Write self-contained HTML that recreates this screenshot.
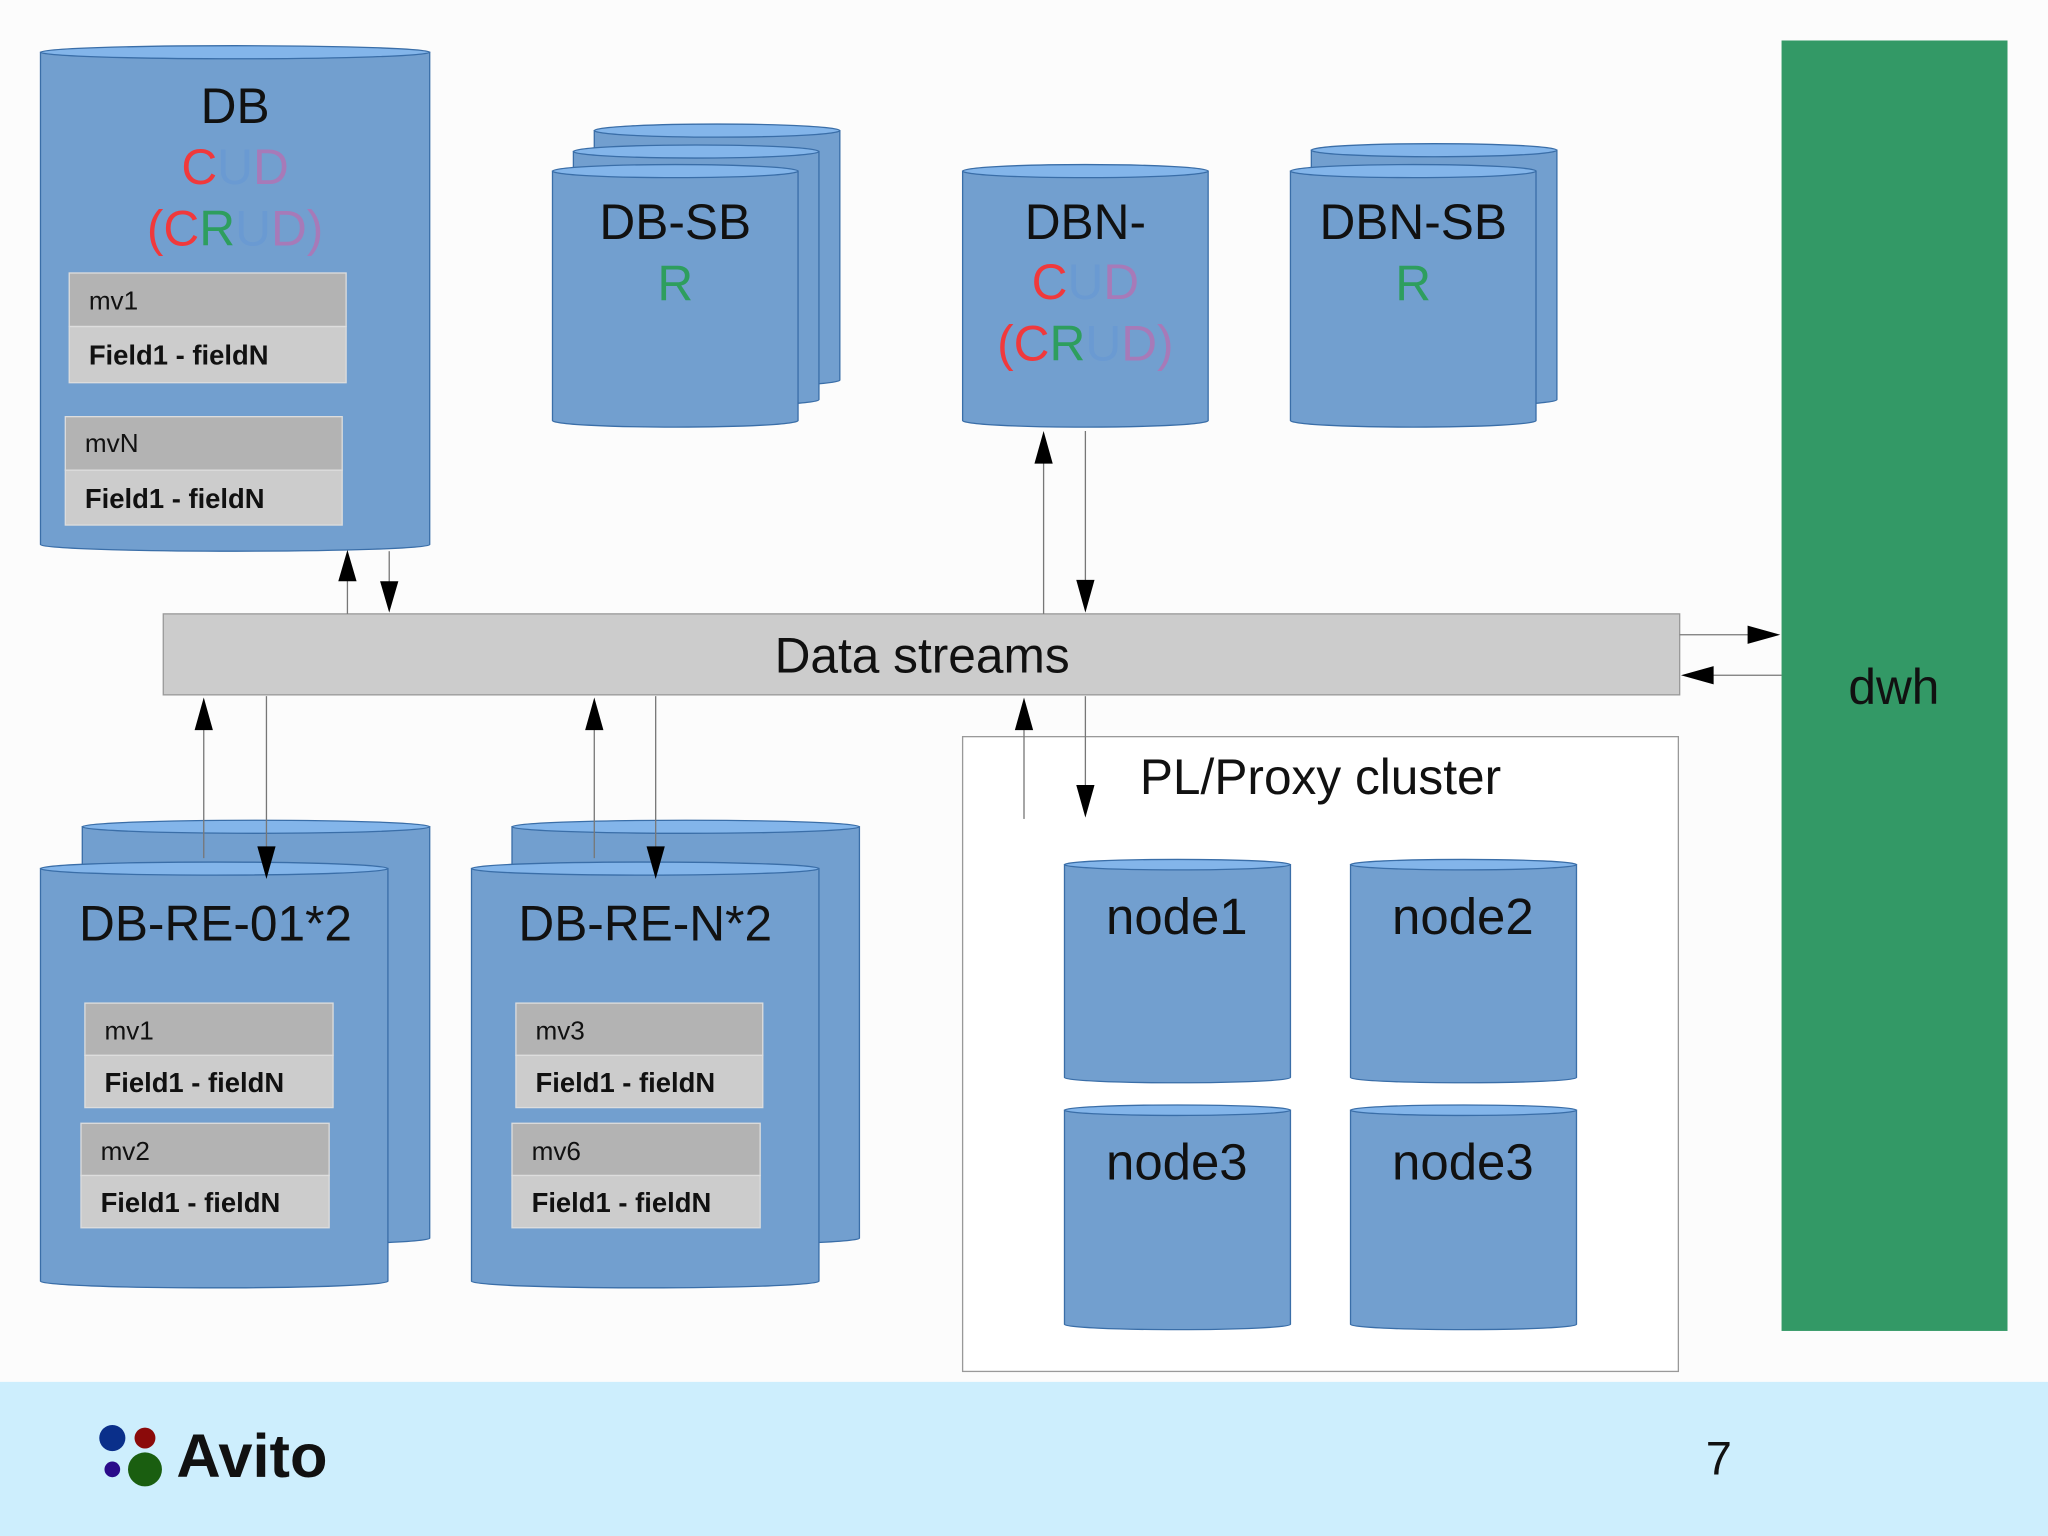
<!DOCTYPE html>
<html><head><meta charset="utf-8"><style>
html,body{margin:0;padding:0;background:#fcfcfc;}
svg{display:block;}
text{font-family:"Liberation Sans",sans-serif;}
</style></head><body>
<svg width="2048" height="1536" viewBox="0 0 1568 1176" xmlns="http://www.w3.org/2000/svg">
<rect width="1568" height="1176" fill="#fcfcfc"/>
<g stroke="#3a6ea8" stroke-width="1" fill="#729fcf">
<path d="M31,40 V417 A149,5 0 0 0 329,417 V40 z"/><ellipse cx="180" cy="40" rx="149" ry="5" fill="#83b5ea"/>
<path d="M455,100 V291 A94,5 0 0 0 643,291 V100 z"/><ellipse cx="549" cy="100" rx="94" ry="5" fill="#83b5ea"/>
<path d="M439,116 V306 A94,5 0 0 0 627,306 V116 z"/><ellipse cx="533" cy="116" rx="94" ry="5" fill="#83b5ea"/>
<path d="M423,131 V322 A94,5 0 0 0 611,322 V131 z"/><ellipse cx="517" cy="131" rx="94" ry="5" fill="#83b5ea"/>
<path d="M737,131 V322 A94,5 0 0 0 925,322 V131 z"/><ellipse cx="831" cy="131" rx="94" ry="5" fill="#83b5ea"/>
<path d="M1004,115 V306 A94,5 0 0 0 1192,306 V115 z"/><ellipse cx="1098" cy="115" rx="94" ry="5" fill="#83b5ea"/>
<path d="M988,131 V322 A94,5 0 0 0 1176,322 V131 z"/><ellipse cx="1082" cy="131" rx="94" ry="5" fill="#83b5ea"/>
<path d="M63,633 V948 A133,5 0 0 0 329,948 V633 z"/><ellipse cx="196" cy="633" rx="133" ry="5" fill="#83b5ea"/>
<path d="M31,665 V981 A133,5 0 0 0 297,981 V665 z"/><ellipse cx="164" cy="665" rx="133" ry="5" fill="#83b5ea"/>
<path d="M392,633 V948 A133,5 0 0 0 658,948 V633 z"/><ellipse cx="525" cy="633" rx="133" ry="5" fill="#83b5ea"/>
<path d="M361,665 V981 A133,5 0 0 0 627,981 V665 z"/><ellipse cx="494" cy="665" rx="133" ry="5" fill="#83b5ea"/>
</g>
<rect x="737" y="564" width="548" height="486" fill="#fff" stroke="#999" stroke-width="1"/>
<g stroke="#3a6ea8" stroke-width="1" fill="#729fcf">
<path d="M815,662 V825 A86.5,4 0 0 0 988,825 V662 z"/><ellipse cx="901.5" cy="662" rx="86.5" ry="4" fill="#83b5ea"/>
<path d="M1034,662 V825 A86.5,4 0 0 0 1207,825 V662 z"/><ellipse cx="1120.5" cy="662" rx="86.5" ry="4" fill="#83b5ea"/>
<path d="M815,850 V1014 A86.5,4 0 0 0 988,1014 V850 z"/><ellipse cx="901.5" cy="850" rx="86.5" ry="4" fill="#83b5ea"/>
<path d="M1034,850 V1014 A86.5,4 0 0 0 1207,1014 V850 z"/><ellipse cx="1120.5" cy="850" rx="86.5" ry="4" fill="#83b5ea"/>
</g>
<rect x="1364" y="31" width="173" height="988" fill="#339966"/>
<text x="1450" y="539" font-size="38" text-anchor="middle" fill="#111">dwh</text>
<rect x="125" y="470" width="1161" height="62" fill="#cccccc" stroke="#999" stroke-width="1"/>
<text x="706" y="515" font-size="38" text-anchor="middle" fill="#111">Data streams</text>
<g font-size="20" fill="#111">
<rect x="53" y="209" width="212" height="41" fill="#b3b3b3" stroke="#ddd"/><rect x="53" y="250" width="212" height="43" fill="#cccccc" stroke="#ddd"/>
<text x="68" y="237">mv1</text><text x="68" y="279" font-weight="bold" font-size="21">Field1 - fieldN</text>
<rect x="50" y="319" width="212" height="41" fill="#b3b3b3" stroke="#ddd"/><rect x="50" y="360" width="212" height="42" fill="#cccccc" stroke="#ddd"/>
<text x="65" y="346">mvN</text><text x="65" y="389" font-weight="bold" font-size="21">Field1 - fieldN</text>
<rect x="65" y="768" width="190" height="40" fill="#b3b3b3" stroke="#ddd"/><rect x="65" y="808" width="190" height="40" fill="#cccccc" stroke="#ddd"/>
<text x="80" y="796">mv1</text><text x="80" y="836" font-weight="bold" font-size="21">Field1 - fieldN</text>
<rect x="62" y="860" width="190" height="40" fill="#b3b3b3" stroke="#ddd"/><rect x="62" y="900" width="190" height="40" fill="#cccccc" stroke="#ddd"/>
<text x="77" y="888">mv2</text><text x="77" y="928" font-weight="bold" font-size="21">Field1 - fieldN</text>
<rect x="395" y="768" width="189" height="40" fill="#b3b3b3" stroke="#ddd"/><rect x="395" y="808" width="189" height="40" fill="#cccccc" stroke="#ddd"/>
<text x="410" y="796">mv3</text><text x="410" y="836" font-weight="bold" font-size="21">Field1 - fieldN</text>
<rect x="392" y="860" width="190" height="40" fill="#b3b3b3" stroke="#ddd"/><rect x="392" y="900" width="190" height="40" fill="#cccccc" stroke="#ddd"/>
<text x="407" y="888">mv6</text><text x="407" y="928" font-weight="bold" font-size="21">Field1 - fieldN</text>
</g>
<g font-size="38" text-anchor="middle" fill="#111">
<text x="180" y="94">DB</text>
<text x="180" y="141"><tspan fill="#f0393c">C</tspan><tspan fill="#6a9ad2">U</tspan><tspan fill="#a77ab8">D</tspan></text>
<text x="180" y="188"><tspan fill="#f0393c">(C</tspan><tspan fill="#2e9e5e">R</tspan><tspan fill="#6a9ad2">U</tspan><tspan fill="#a77ab8">D)</tspan></text>
<text x="517" y="183">DB-SB</text>
<text x="517" y="230" fill="#2e9e5e">R</text>
<text x="831" y="183">DBN-</text>
<text x="831" y="229"><tspan fill="#f0393c">C</tspan><tspan fill="#6a9ad2">U</tspan><tspan fill="#a77ab8">D</tspan></text>
<text x="831" y="276"><tspan fill="#f0393c">(C</tspan><tspan fill="#2e9e5e">R</tspan><tspan fill="#6a9ad2">U</tspan><tspan fill="#a77ab8">D)</tspan></text>
<text x="1082" y="183">DBN-SB</text>
<text x="1082" y="230" fill="#2e9e5e">R</text>
<text x="165" y="720">DB-RE-01*2</text>
<text x="494" y="720">DB-RE-N*2</text>
<text x="1011" y="608">PL/Proxy cluster</text>
<text x="901" y="715" font-size="39">node1</text>
<text x="1120" y="715" font-size="39">node2</text>
<text x="901" y="903" font-size="39">node3</text>
<text x="1120" y="903" font-size="39">node3</text>
</g>
<g stroke="#777" stroke-width="1" fill="none">
<line x1="266" y1="470" x2="266" y2="440"/>
<line x1="298" y1="422" x2="298" y2="450"/>
<line x1="799" y1="470" x2="799" y2="350"/>
<line x1="831" y1="330" x2="831" y2="450"/>
<line x1="1286" y1="486" x2="1340" y2="486"/>
<line x1="1364" y1="517" x2="1310" y2="517"/>
<line x1="156" y1="657" x2="156" y2="555"/>
<line x1="204" y1="533" x2="204" y2="650"/>
<line x1="455" y1="657" x2="455" y2="555"/>
<line x1="502" y1="533" x2="502" y2="650"/>
<line x1="784" y1="627" x2="784" y2="555"/>
<line x1="831" y1="533" x2="831" y2="605"/>
</g>
<g fill="#000">
<path d="M259,445 L266,421 L273,445 z"/>
<path d="M291,445 L298,469 L305,445 z"/>
<path d="M792,355 L799,330 L806,355 z"/>
<path d="M824,444 L831,469 L838,444 z"/>
<path d="M1338,479 L1363,486 L1338,493 z"/>
<path d="M1312,510 L1287,517 L1312,524 z"/>
<path d="M149,559 L156,534 L163,559 z"/>
<path d="M197,648 L204,673 L211,648 z"/>
<path d="M448,559 L455,534 L462,559 z"/>
<path d="M495,648 L502,673 L509,648 z"/>
<path d="M777,559 L784,534 L791,559 z"/>
<path d="M824,601 L831,626 L838,601 z"/>
</g>
<rect x="0" y="1058" width="1568" height="118" fill="#cdeefd"/>
<circle cx="86" cy="1101" r="10" fill="#0a2f8a"/>
<circle cx="111" cy="1101" r="8" fill="#8b0a0a"/>
<circle cx="86" cy="1125" r="6" fill="#2a0a8a"/>
<circle cx="111" cy="1125" r="13" fill="#1a5e10"/>
<text x="135" y="1131" font-size="47" font-weight="bold" fill="#111">Avito</text>
<text x="1316" y="1129" font-size="36" text-anchor="middle" fill="#111">7</text>
</svg>
</body></html>
